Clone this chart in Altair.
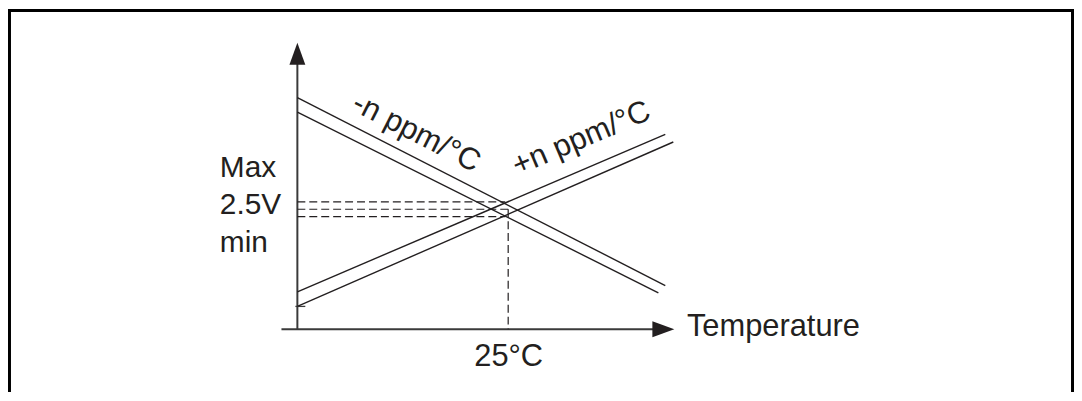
import altair as alt
import pandas as pd

# ---- values (x: temperature units, 25 = 25°C; y: voltage units, 2.5 = 2.5V) ----
# solid characteristic lines (start x, start y, end x, end y)
line_names = ["-n ppm upper", "-n ppm lower", "+n ppm upper", "+n ppm lower"]
line_x0 = [0.0, 0.0, 0.0, 0.0]
line_y0 = [4.834, 4.530, 0.782, 0.477]
line_x1 = [43.63, 42.81, 43.63, 44.58]
line_y1 = [0.913, 0.761, 4.064, 3.907]

# dashed guide lines (horizontal at Max / 2.5V / min, and vertical at 25°C)
dash_x0 = [0.0, 0.0, 0.0, 25.0]
dash_y0 = [2.656, 2.504, 2.351, 2.504]
dash_x1 = [24.65, 25.0, 24.65, 25.0]
dash_y1 = [2.656, 2.504, 2.351, 0.0]

# axes (x axis from slightly left of origin to arrow, y axis from origin up to arrow, small tick)
axis_x0 = [-1.887, 0.0, -0.236]
axis_y0 = [0.0, 0.0, 0.477]
axis_x1 = [42.3, 0.0, 0.943]
axis_y1 = [0.0, 5.55, 0.477]
axis_w = [2.0, 2.0, 1.3]

# arrow heads
arrow_x = [0.0, 43.40]
arrow_y = [5.747, 0.0]
arrow_shape = ["M0,-1L-0.727,1L0.727,1Z", "M1,0L-1,-0.727L-1,0.727Z"]

# labels (left aligned)
label_text = ["Max", "2.5V", "min"]
label_x = [-9.198, -9.198, -9.198]
label_y = [3.174, 2.407, 1.618]

temp_text = ["Temperature"]
temp_x = [46.2]
temp_y = [-0.145]

# centred label under the 25°C guide
center_text = ["25°C"]
center_x = [25.06]
center_y = [-0.768]

# labels written along the sloped lines
rot_text = ["-n ppm/°C", "+n ppm/°C"]
rot_x = [14.1, 33.7]
rot_y = [4.095, 3.975]
rot_angle = [27, 337]

W, H = 1072, 385
xs = alt.Scale(domain=[-34.316, 92.099], nice=False, zero=False)
ys = alt.Scale(domain=[-1.307, 6.680], nice=False, zero=False)
INK = "#231f20"
FONT = "Liberation Sans"

lines = pd.DataFrame({"name": line_names, "x": line_x0, "y": line_y0, "x2": line_x1, "y2": line_y1})
dashes = pd.DataFrame({"x": dash_x0, "y": dash_y0, "x2": dash_x1, "y2": dash_y1})
axes = pd.DataFrame({"x": axis_x0, "y": axis_y0, "x2": axis_x1, "y2": axis_y1, "w": axis_w})
arrows = pd.DataFrame({"x": arrow_x, "y": arrow_y, "shape": arrow_shape})
labels = pd.DataFrame({"t": label_text, "x": label_x, "y": label_y})
tlabels = pd.DataFrame({"t": temp_text, "x": temp_x, "y": temp_y})
clabels = pd.DataFrame({"t": center_text, "x": center_x, "y": center_y})
rlabels = pd.DataFrame({"t": rot_text, "x": rot_x, "y": rot_y, "ang": rot_angle})


def XY(extra=None):
    enc = dict(
        x=alt.X("x:Q", scale=xs, axis=None),
        y=alt.Y("y:Q", scale=ys, axis=None),
    )
    if extra:
        enc.update(extra)
    return enc


line_layer = alt.Chart(lines).mark_rule(color=INK, strokeWidth=1.4).encode(
    **XY({"x2": "x2:Q", "y2": "y2:Q", "detail": "name:N"})
)

dash_layer = alt.Chart(dashes).mark_rule(color=INK, strokeWidth=1.2, strokeDash=[8, 4]).encode(
    **XY({"x2": "x2:Q", "y2": "y2:Q"})
)

axis_layer = alt.Chart(axes).mark_rule(color="#3a3a3a").encode(
    **XY({"x2": "x2:Q", "y2": "y2:Q",
          "strokeWidth": alt.StrokeWidth("w:Q", scale=None, legend=None)})
)

arrow_layer = alt.Chart(arrows).mark_point(filled=True, color=INK, opacity=1, size=484, strokeWidth=0).encode(
    **XY({"shape": alt.Shape("shape:N", scale=None, legend=None)})
)

label_layer = alt.Chart(labels).mark_text(
    font=FONT, fontSize=30, color=INK, baseline="alphabetic", align="left"
).encode(**XY({"text": "t:N"}))

temp_layer = alt.Chart(tlabels).mark_text(
    font=FONT, fontSize=31, color=INK, baseline="alphabetic", align="left"
).encode(**XY({"text": "t:N"}))

center_layer = alt.Chart(clabels).mark_text(
    font=FONT, fontSize=31, color=INK, baseline="alphabetic", align="center"
).encode(**XY({"text": "t:N"}))

rot_layer = alt.Chart(rlabels).mark_text(
    font=FONT, fontSize=31, color=INK, baseline="middle", align="center"
).encode(**XY({"text": "t:N", "angle": alt.Angle("ang:Q", scale=None, legend=None)}))

# outer frame (left, top, right edges)
frame_left = alt.Chart(pd.DataFrame({"k": [0]})).mark_rule(color="black", strokeWidth=3).encode(
    x=alt.value(1.5), y=alt.value(0), y2=alt.value(H)
)
frame_top = alt.Chart(pd.DataFrame({"k": [0]})).mark_rule(color="black", strokeWidth=3).encode(
    x=alt.value(0), x2=alt.value(W), y=alt.value(1.5)
)
frame_right = alt.Chart(pd.DataFrame({"k": [0]})).mark_rule(color="black", strokeWidth=3).encode(
    x=alt.value(1070.5), y=alt.value(0), y2=alt.value(H)
)

chart = alt.layer(
    frame_left, frame_top, frame_right,
    axis_layer, dash_layer, line_layer, arrow_layer,
    label_layer, temp_layer, center_layer, rot_layer,
).properties(
    width=W, height=H, padding=0, autosize=alt.AutoSizeParams(type="none"),
    background="white",
).configure_view(stroke=None)

chart.save("out.html", embed_options={"renderer": "svg", "actions": False})
